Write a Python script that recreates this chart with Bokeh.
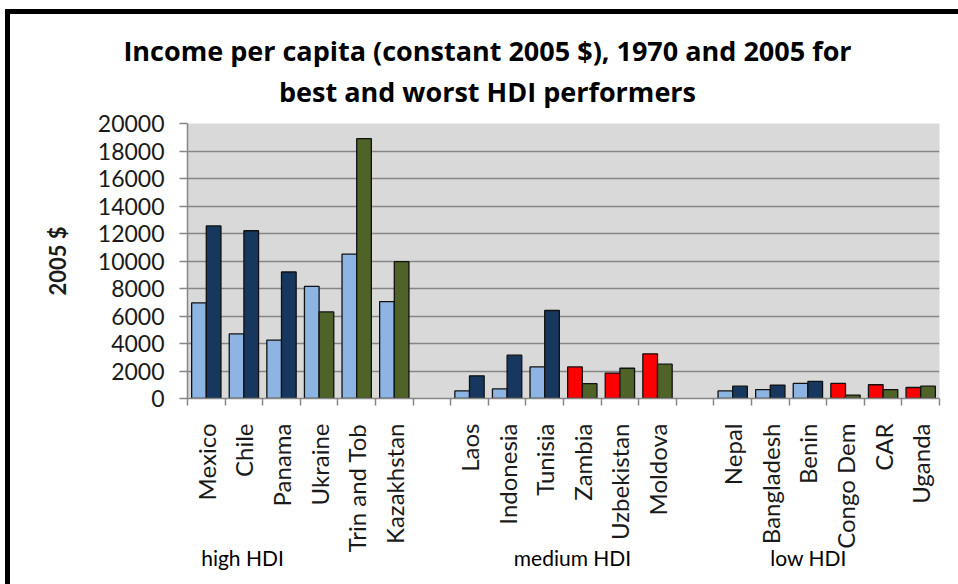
import numpy as np
from bokeh.plotting import figure
from bokeh.models import Range1d, LinearAxis, FixedTicker, ColumnDataSource
from bokeh.embed import file_html
from bokeh.resources import INLINE

# ---------------- data ----------------
groups = ["high HDI", "medium HDI", "low HDI"]
high_countries = ["Mexico", "Chile", "Panama", "Ukraine", "Trin and Tob", "Kazakhstan"]
medium_countries = ["Laos", "Indonesia", "Tunisia", "Zambia", "Uzbekistan", "Moldova"]
low_countries = ["Nepal", "Bangladesh", "Benin", "Congo Dem", "CAR", "Uganda"]
high_1970 = [6950, 4700, 4250, 8150, 10500, 7050]
high_2005 = [12550, 12200, 9200, 6300, 18900, 9950]
medium_1970 = [550, 700, 2300, 2300, 1850, 3250]
medium_2005 = [1650, 3150, 6400, 1080, 2200, 2500]
low_1970 = [550, 650, 1100, 1100, 1000, 800]
low_2005 = [900, 980, 1250, 250, 650, 900]
performer = ["best", "best", "best", "worst", "worst", "worst"]
y_ticks = list(range(0, 20001, 2000))

title_line1 = "Income per capita (constant 2005 $), 1970 and 2005 for"
title_line2 = "best and worst HDI performers"
y_label = "2005 $"

# ---------------- styles ----------------
LIGHT = "#8DB4E2"
NAVY = "#17375E"
OLIVE = "#4F6228"
RED = "#FF0000"
GRAY = "#868686"
TXT = "#1a1a1a"
FONT = "Lato"
TFONT = "Open Sans"

group_countries = [high_countries, medium_countries, low_countries]
group_1970 = [high_1970, medium_1970, low_1970]
group_2005 = [high_2005, medium_2005, low_2005]

n_slots = len(groups) * 7 - 1
BW = 0.39

xs70, xs05, v70, v05, c70, c05, names, centers = [], [], [], [], [], [], [], []
for g in range(len(groups)):
    for i, name in enumerate(group_countries[g]):
        c = g * 7 + i + 0.5
        centers.append(c)
        names.append(name)
        xs70.append(c - BW / 2)
        xs05.append(c + BW / 2)
        v70.append(group_1970[g][i])
        v05.append(group_2005[g][i])
        worst = performer[i] == "worst"
        c70.append(RED if (worst and g > 0) else LIGHT)
        c05.append(OLIVE if worst else NAVY)

# page-geometry helper (frame at x 187..939)
FL, FR = 187.0, 939.0
def xd(px):
    return (px - FL) / (FR - FL) * n_slots

p = figure(width=958, height=584, x_range=Range1d(0, n_slots), y_range=Range1d(0, 20000),
           output_backend="svg", toolbar_location=None, x_axis_location=None,
           min_border_left=187, min_border_right=19, min_border_top=123, min_border_bottom=186)
p.styles = {"box-shadow": "inset 5px 9px 0 0 white, inset 10px 14px 0 0 black",
            "overflow": "hidden"}
p.background_fill_color = "#D9D9D9"
p.border_fill_color = None
p.outline_line_color = None

src70 = ColumnDataSource(dict(x=xs70, top=v70, color=c70))
src05 = ColumnDataSource(dict(x=xs05, top=v05, color=c05))
p.vbar(x="x", top="top", width=BW, bottom=0, fill_color="color", line_color="#111111",
       line_width=1.3, source=src70)
p.vbar(x="x", top="top", width=BW, bottom=0, fill_color="color", line_color="#111111",
       line_width=1.3, source=src05)

# y axis
ya = p.yaxis[0]
ya.ticker = FixedTicker(ticks=y_ticks)
ya.major_tick_in = 0
ya.major_tick_out = 8
ya.minor_tick_line_color = None
ya.axis_line_color = GRAY
ya.axis_line_width = 1.5
ya.major_tick_line_color = GRAY
ya.major_tick_line_width = 1.5
ya.major_label_text_font = FONT
ya.major_label_text_font_size = "23px"
ya.major_label_text_color = TXT
ya.major_label_standoff = 15
ya.axis_label = y_label
ya.axis_label_text_font = FONT
ya.axis_label_text_font_style = "bold"
ya.axis_label_text_font_size = "22px"
ya.axis_label_text_color = TXT
ya.axis_label_standoff = 24

p.ygrid.ticker = FixedTicker(ticks=y_ticks)
p.ygrid.grid_line_color = GRAY
p.ygrid.grid_line_width = 1.5
p.xgrid.visible = False

def bare_axis(ticks, labels, **kw):
    return LinearAxis(ticker=FixedTicker(ticks=ticks),
                      major_label_overrides={t: s for t, s in zip(ticks, labels)},
                      major_tick_in=0, major_tick_out=0, minor_tick_line_color=None,
                      axis_line_color=None, major_tick_line_color=None, **kw)

# x axis: category labels at centres, tick marks at category boundaries
xa = LinearAxis(ticker=FixedTicker(ticks=centers, minor_ticks=list(range(n_slots + 1))),
                major_label_overrides={t: s for t, s in zip(centers, names)},
                major_label_orientation=np.pi / 2,
                major_label_text_font=FONT, major_label_text_font_size="24px",
                major_label_text_color=TXT, major_label_standoff=18,
                major_tick_in=0, major_tick_out=7, major_tick_line_color=None,
                minor_tick_in=0, minor_tick_out=7, minor_tick_line_color=GRAY,
                minor_tick_line_width=1.5, axis_line_color=GRAY, axis_line_width=1.5)
p.add_layout(xa, "below")

# group labels
grp_axis = bare_axis([xd(242), xd(572), xd(808)], groups,
                     major_label_text_font=FONT, major_label_text_font_size="21px",
                     major_label_text_color="black", major_label_standoff=-11)
p.add_layout(grp_axis, "below")

# title lines (line 2 closest to the frame)
t2 = bare_axis([xd(487)], [title_line2], major_label_text_font=TFONT,
               major_label_text_font_style="bold", major_label_text_font_size="27px",
               major_label_text_color="black", major_label_standoff=14)
p.add_layout(t2, "above")
t1 = bare_axis([xd(487)], [title_line1], major_label_text_font=TFONT,
               major_label_text_font_style="bold", major_label_text_font_size="27px",
               major_label_text_color="black", major_label_standoff=1)
p.add_layout(t1, "above")

open("out.html", "w").write(file_html(p, INLINE))
